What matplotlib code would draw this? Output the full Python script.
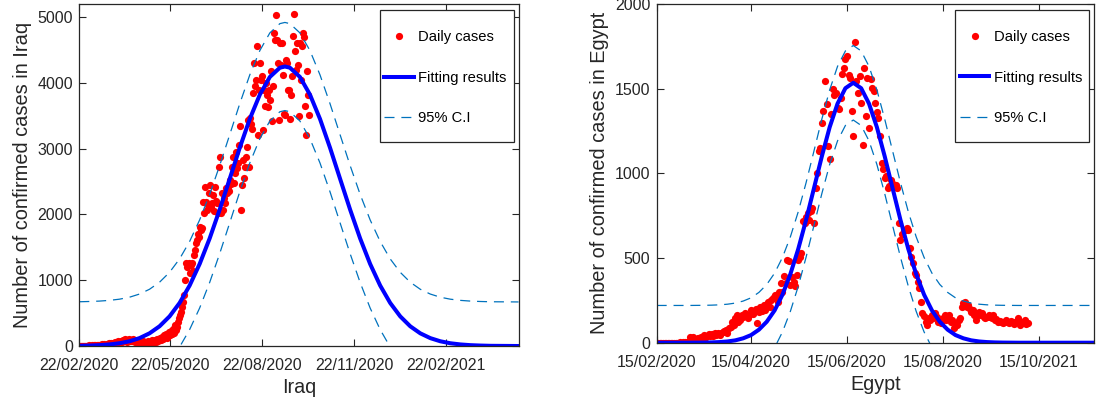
import matplotlib.pyplot as plt
from matplotlib.patches import Rectangle
from matplotlib.transforms import IdentityTransform
import pandas as pd

plt.rcParams['font.family'] = ['Liberation Sans', 'DejaVu Sans']

# ---- Iraq: daily confirmed cases from 22/02/2020 (one value per day)
iraq_start = '2020-02-22'
iraq_cases = [
    1, 0, 3, 1, 0, 2, 1, 5, 2, 3, 8, 6, 4, 10, 5, 12, 9, 7, 14, 11,
    20, 15, 9, 25, 18, 30, 22, 14, 35, 28, 40, 26, 45, 33, 50, 38, 60, 42, 55, 70,
    48, 65, 80, 58, 90, 72, 100, 85, 60, 95, 110, 78, 88, 70, 105, 92, 64, 82, 55, 75,
    45, 68, 38, 52, 80, 60, 35, 48, 72, 55, 40, 62, 85, 50, 70, 95, 58, 110, 78, 90,
    120, 85, 140, 100, 160, 130, 180, 115, 150, 210, 170, 230, 190, 260, 200, 320, 250,
    294, 360, 421, 470, 522, 600, 674, 780, 1004, 1260, 1207, 1250, 1258, 1106, 1230,
    1258, 1140, 1380, 1461, 1560, 1613, 1700, 1664, 1816, 1760, 1800, 2196, 2020, 2425,
    2190, 2070, 2150, 2330, 2450, 2110, 2172, 2298, 2050, 2425, 2200, 2172, 2030, 2729,
    2881, 2020, 2324, 2070, 2250, 2170, 2400, 2324, 2425, 2350, 2530, 2460, 2729, 2881,
    2480, 2628, 2957, 2700, 2780, 3050, 3338, 2070, 2450, 2830, 2550, 2729, 2880, 3033,
    3440, 2729, 3465, 3380, 3300, 3846, 4303, 3950, 4049, 4556, 3211, 3896, 4300, 4049,
    4100, 3287, 3900, 3642, 4000, 3820, 3640, 3896, 3740, 4180, 3414, 3950, 4759, 4650,
    5038, 4657, 4300, 3430, 4607, 4280, 4607, 4125, 3530, 3516, 4350, 4300, 3900, 3896,
    3450, 3820, 4100, 4710, 5053, 4480, 4200, 4607, 4277, 3490, 4600, 4050, 4556, 4760,
    4700, 3642, 3211, 4176, 3810, 3516,
]
# fitted curve (day offset, cases)
iraq_fit_day = [0, 10, 20, 30, 40, 50, 60, 70, 80, 90, 100, 110, 120, 130, 140, 150,
                160, 170, 180, 190, 200, 205, 210, 220, 230, 240, 250, 260, 270, 280,
                290, 300, 310, 320, 330, 340, 350, 360, 370, 380, 390, 400, 410, 420,
                430, 438]
iraq_fit = [3, 7, 13, 24, 42, 72, 120, 193, 300, 451, 655, 920, 1248, 1637, 2076, 2544,
            3015, 3453, 3822, 4091, 4232, 4250, 4232, 4091, 3822, 3453, 3015, 2544, 2076,
            1637, 1248, 920, 655, 451, 300, 193, 120, 72, 42, 24, 13, 7, 3, 2, 1, 0]
iraq_ci = 670
iraq_tick_dates = ['2020-02-22', '2020-05-22', '2020-08-22', '2020-11-22', '2021-02-22']
iraq_tick_labels = ['22/02/2020', '22/05/2020', '22/08/2020', '22/11/2020', '22/02/2021']
iraq_end = '2021-05-05'

# ---- Egypt: daily confirmed cases from 15/02/2020
egypt_start = '2020-02-15'
egypt_cases = [
    1, 0, 0, 0, 0, 0, 0, 0, 0, 0, 0, 0, 0, 1, 0, 2, 1, 3, 6, 3, 5,
    32, 10, 33, 2, 20, 28, 26, 36, 22, 45, 30, 40, 49, 38, 52, 40, 55, 48, 60,
    45, 55, 65, 70, 75, 60, 86, 95, 124, 105, 144, 164, 120, 134, 164, 150, 174, 160, 145, 164,
    193, 170, 184, 200, 114, 184, 210, 190, 223, 193, 230, 243, 213, 250, 263, 282, 270, 243, 302, 351,
    300, 391, 351, 490, 480, 341, 390, 360, 332, 400, 490, 509, 530, 716, 707, 740, 766, 726, 776, 795,
    707, 914, 1000, 1131, 1150, 1299, 1368, 1546, 1407, 1160, 1082, 1349, 1496, 1460, 1477, 1388,
    1378, 1447, 1585, 1625, 1674, 1694, 1580, 1565, 1368, 1220, 1777, 1546, 1477, 1575, 1417,
    1170, 1625, 1338, 1565, 1269, 1556, 1506, 1486, 1417, 1360, 1328, 1220, 1062, 1023, 973,
    983, 914, 924, 963, 940, 924, 930, 914, 707, 608, 640, 667, 667, 680, 667, 560, 509, 470,
    411, 400, 360, 322, 243, 174, 160, 124, 105, 144, 134, 164, 144, 174, 150, 120, 134, 114,
    144, 164, 134, 150, 164, 125, 134, 85, 110, 105, 134, 144, 213, 233, 243, 213, 223, 200,
    184, 193, 164, 134, 164, 184, 164, 174, 154, 144, 150, 164, 154, 144, 164, 134, 140, 124,
    130, 120, 114, 125, 134, 120, 114, 130, 124, 110, 124, 130, 144, 105, 120, 114, 134, 110, 118,
]
egypt_fit_day = [0, 5, 10, 15, 20, 25, 30, 35, 40, 45, 50, 55, 60, 65, 70, 75, 80, 85, 90,
                 95, 100, 105, 110, 115, 120, 125, 130, 135, 140, 145, 150, 155, 160, 165,
                 170, 175, 180, 185, 190, 195, 200, 205, 210, 215, 220, 225, 230, 235, 240,
                 245, 250, 255, 260, 265, 270, 275, 278]
egypt_fit = [0, 0, 0, 0, 0, 0.4, 0.8, 1.8, 3.7, 7.4, 14, 26, 45, 77, 124, 191, 284, 405,
             553, 725, 912, 1100, 1273, 1412, 1503, 1535, 1503, 1412, 1273, 1100, 912, 725,
             553, 405, 284, 191, 124, 77, 45, 26, 14, 7.4, 3.7, 1.8, 0.8, 0.4, 0, 0, 0, 0,
             0, 0, 0, 0, 0, 0, 0]
egypt_ci = 220
egypt_tick_dates = ['2020-02-15', '2020-04-15', '2020-06-15', '2020-08-15', '2020-10-15']
egypt_tick_labels = ['15/02/2020', '15/04/2020', '15/06/2020', '15/08/2020', '15/10/2021']
egypt_end = '2020-11-19'

AX_COLOR = '#262626'
CI_COLOR = '#0072BD'


def panel(ax, cases, fit_day, fit, ci, start, end, tick_dates, tick_labels,
          ymax, yticks, name):
    start = pd.Timestamp(start)
    days = list(range(len(cases)))
    ax.plot(days, cases, 'o', color='red', ms=5.2, mec='none', label='Daily cases')
    ax.plot(fit_day, fit, color='blue', lw=2.9, label='Fitting results')
    upper = [v + ci for v in fit]
    lower = [v - ci for v in fit]
    ax.plot(fit_day, upper, color=CI_COLOR, lw=0.9, ls=(0, (8, 5.5)), label='95% C.I')
    ax.plot(fit_day, lower, color=CI_COLOR, lw=0.9, ls=(0, (8, 5.5)))

    ticks = [(pd.Timestamp(d) - start).days for d in tick_dates]
    ax.set_xticks(ticks)
    ax.set_xticklabels(tick_labels)
    ax.set_xlim(0, (pd.Timestamp(end) - start).days)
    ax.set_ylim(0, ymax)
    ax.set_yticks(yticks)

    ax.set_xlabel(name, fontsize=14.2, color=AX_COLOR, labelpad=4)
    ax.set_ylabel('Number of confirmed cases in ' + name, fontsize=14.4,
                  color=AX_COLOR, labelpad=4)
    ax.tick_params(direction='in', top=True, right=True, length=5, width=0.8,
                   labelsize=11.5, colors=AX_COLOR)
    ax.tick_params(axis='x', pad=8.5)
    ax.tick_params(axis='y', pad=4.5)
    for s in ax.spines.values():
        s.set_linewidth(0.9)
        s.set_color(AX_COLOR)

    # legend content only; the box is drawn afterwards with MATLAB-like padding
    leg = ax.legend(loc='upper right', bbox_to_anchor=(0.973, 0.923),
                    borderaxespad=0, borderpad=0, frameon=False, fontsize=10.6,
                    labelspacing=1.8, handlelength=2.0, handletextpad=0.3,
                    numpoints=1)
    return leg


fig = plt.figure(figsize=(10.97, 4.03), dpi=100)
ax1 = fig.add_axes([0.0723, 0.1414, 0.4004, 0.8486])
ax2 = fig.add_axes([0.5986, 0.1496, 0.3986, 0.8404])

leg1 = panel(ax1, iraq_cases, iraq_fit_day, iraq_fit, iraq_ci, iraq_start, iraq_end,
             iraq_tick_dates, iraq_tick_labels, 5200, [0, 1000, 2000, 3000, 4000, 5000],
             'Iraq')
leg2 = panel(ax2, egypt_cases, egypt_fit_day, egypt_fit, egypt_ci, egypt_start, egypt_end,
             egypt_tick_dates, egypt_tick_labels, 2000, [0, 500, 1000, 1500, 2000], 'Egypt')

fig.canvas.draw()
for ax, leg in [(ax1, leg1), (ax2, leg2)]:
    bb = leg.get_window_extent()
    box = Rectangle((bb.x0 - 4.5, bb.y0 - 17), bb.width + 11.5, bb.height + 37,
                    transform=IdentityTransform(), facecolor='white',
                    edgecolor=AX_COLOR, lw=0.9, zorder=4.9, clip_on=False)
    ax.add_artist(box)

fig.savefig('out.png', dpi=100)
